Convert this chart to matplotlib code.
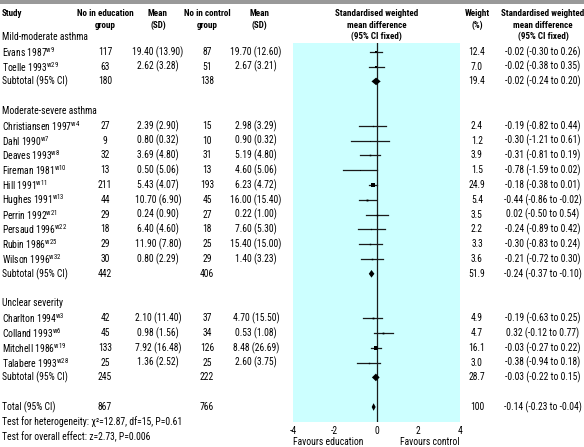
import numpy as np
import matplotlib.pyplot as plt
from matplotlib import font_manager
from matplotlib.patches import Polygon, Rectangle

# pick a narrow sans if one is installed, else plain Liberation Sans a bit smaller
names = {f.name for f in font_manager.fontManager.ttflist}
fam, fs = 'Liberation Sans', 5.9
for cand, size in [('Liberation Sans Narrow', 7), ('Roboto Condensed', 6.6)]:
    if cand in names:
        fam, fs = cand, size
        break
plt.rcParams['font.family'] = [fam, 'DejaVu Sans']
plt.rcParams['mathtext.fontset'] = 'custom'
plt.rcParams['mathtext.rm'] = fam
fs_body = fs * 1.05
fs_head = fs * 0.98

# data
group_names = ["Mild-moderate asthma", "Moderate-severe asthma", "Unclear severity"]
group_of = [0, 0, 1, 1, 1, 1, 1, 1, 1, 1, 1, 1, 2, 2, 2, 2]
studies = ["Evans 1987", "Toelle 1993", "Christiansen 1997", "Dahl 1990", "Deaves 1993",
           "Fireman 1981", "Hill 1991", "Hughes 1991", "Perrin 1992", "Persaud 1996",
           "Rubin 1986", "Wilson 1996", "Charlton 1994", "Colland 1993", "Mitchell 1986",
           "Talabere 1993"]
refs = ["w9", "w29", "w4", "w7", "w8", "w10", "w11", "w13", "w21", "w22", "w25", "w32",
        "w3", "w6", "w19", "w28"]
n_edu = [117, 63, 27, 9, 32, 13, 211, 44, 29, 18, 29, 30, 42, 45, 133, 25]
mean_edu = [19.40, 2.62, 2.39, 0.80, 3.69, 0.50, 5.43, 10.70, 0.24, 6.40, 11.90, 0.80,
            2.10, 0.98, 7.92, 1.36]
sd_edu = [13.90, 3.28, 2.90, 0.32, 4.80, 5.06, 4.07, 6.90, 0.90, 4.60, 7.80, 2.29,
          11.40, 1.56, 16.48, 2.52]
n_ctl = [87, 51, 15, 10, 31, 13, 193, 45, 27, 18, 25, 29, 37, 34, 126, 25]
mean_ctl = [19.70, 2.67, 2.98, 0.90, 5.19, 4.60, 6.23, 16.00, 0.22, 7.60, 15.40, 1.40,
            4.70, 0.53, 8.48, 2.60]
sd_ctl = [12.60, 3.21, 3.29, 0.32, 4.80, 5.06, 4.72, 15.40, 1.00, 5.30, 15.00, 3.23,
          15.50, 1.08, 26.69, 3.75]
weight = [12.4, 7.0, 2.4, 1.2, 3.9, 1.5, 24.9, 5.4, 3.5, 2.2, 3.3, 3.6, 4.9, 4.7, 16.1, 3.0]
smd = [-0.02, -0.02, -0.19, -0.30, -0.31, -0.78, -0.18, -0.44, 0.02, -0.24, -0.30, -0.21,
       -0.19, 0.32, -0.03, -0.38]
ci_lo = [-0.30, -0.38, -0.82, -1.21, -0.81, -1.59, -0.38, -0.86, -0.50, -0.89, -0.83,
         -0.72, -0.63, -0.12, -0.27, -0.94]
ci_hi = [0.26, 0.35, 0.44, 0.61, 0.19, 0.02, 0.01, -0.02, 0.54, 0.42, 0.24, 0.30,
         0.25, 0.77, 0.22, 0.18]

sub_n_edu = [180, 442, 245]
sub_n_ctl = [138, 406, 222]
sub_weight = [19.4, 51.9, 28.7]
sub_smd = [-0.02, -0.24, -0.03]
sub_lo = [-0.24, -0.37, -0.22]
sub_hi = [0.20, -0.10, 0.15]

total_n_edu, total_n_ctl = 867, 766
total_weight = 100
total_smd, total_lo, total_hi = -0.14, -0.23, -0.04

het_text = "Test for heterogeneity: χ²=12.87, df=15, P=0.61"
overall_text = "Test for overall effect: z=2.73, P=0.006"

# layout (pixel coordinates, y from top)
W, H = 584, 447
x_study, x_ne, x_me, x_nc, x_mc = 2, 105, 158, 207, 256
x_w, x_ci = 477, 543
px_left, px_right, px_top, px_bot = 293, 460, 43, 422
row_y = lambda r: 37 + 14.8 * r
ink = '#1a1a1a'

fig = plt.figure(figsize=(W / 100, H / 100), dpi=100)
bg = fig.add_axes([0, 0, 1, 1])
bg.set_xlim(0, W)
bg.set_ylim(H, 0)
bg.axis('off')
bg.add_patch(Rectangle((0, 0), W, 3.5, color='#999999', lw=0))

ax = fig.add_axes([px_left / W, (H - px_bot) / H, (px_right - px_left) / W,
                   (px_bot - px_top) / H])
ax.set_xlim(-4, 4)
ax.set_ylim(px_bot, px_top)
ax.set_facecolor('#ccffff')
for s in ax.spines.values():
    s.set_visible(False)
ax.set_xticks([-4, -2, 0, 2, 4])
ax.set_xticklabels(["-4", "-2", "0", "2", "4"], fontsize=fs_body)
ax.tick_params(axis='x', length=0, pad=3)
ax.set_yticks([])
ax.axvline(0, color=ink, lw=0.9, zorder=1)


def txt(x, y, s, ha='left', bold=False):
    bg.text(x, y, s, ha=ha, va='center', fontsize=fs_head if bold else fs_body,
            fontweight='bold' if bold else 'normal', color='black')


# column headers
hdr = [(x_study, ["Study"]), (x_ne, ["No in education", "group"]),
       (x_me, ["Mean", "(SD)"]), (x_nc, ["No in control", "group"]),
       (x_mc + 3, ["Mean", "(SD)"]),
       ((px_left + px_right) / 2, ["Standardised weighted", "mean difference", "(95% CI fixed)"]),
       (x_w, ["Weight", "(%)"]),
       (x_ci, ["Standardised weighted", "mean difference", "(95% CI fixed)"])]
for x, lines in hdr:
    for k, line in enumerate(lines):
        txt(x, 14 + 11 * k, line, ha='left' if x == x_study else 'center', bold=True)


def diamond(y, m, lo, hi, h=3.8):
    ax.add_patch(Polygon([(lo, y), (m, y - h), (hi, y), (m, y + h)], closed=True,
                         color='black', lw=0, zorder=3))


row = 0
for g, gname in enumerate(group_names):
    txt(x_study, row_y(row), gname)
    row += 1
    for i in [j for j in range(len(studies)) if group_of[j] == g]:
        y = row_y(row)
        txt(x_study, y, studies[i] + r"$^{\mathrm{" + refs[i] + "}}$")
        txt(x_ne, y, str(n_edu[i]), ha='center')
        txt(x_me, y, f"{mean_edu[i]:.2f} ({sd_edu[i]:.2f})", ha='center')
        txt(x_nc, y, str(n_ctl[i]), ha='center')
        txt(x_mc, y, f"{mean_ctl[i]:.2f} ({sd_ctl[i]:.2f})", ha='center')
        txt(x_w, y, f"{weight[i]:.1f}", ha='center')
        txt(x_ci, y, f"{smd[i]:.2f} ({ci_lo[i]:.2f} to {ci_hi[i]:.2f})", ha='center')
        ax.plot([ci_lo[i], ci_hi[i]], [y, y], color=ink, lw=0.9, zorder=2)
        side = max(0.8 * np.sqrt(weight[i]), 1.0)
        ax.plot(smd[i], y, marker='s', ms=side * 0.72, color='black', mew=0, zorder=3)
        row += 1
    y = row_y(row)
    txt(x_study, y, "Subtotal (95% CI)")
    txt(x_ne, y, str(sub_n_edu[g]), ha='center')
    txt(x_nc, y, str(sub_n_ctl[g]), ha='center')
    txt(x_w, y, f"{sub_weight[g]:.1f}", ha='center')
    txt(x_ci, y, f"{sub_smd[g]:.2f} ({sub_lo[g]:.2f} to {sub_hi[g]:.2f})", ha='center')
    diamond(y, sub_smd[g], sub_lo[g], sub_hi[g])
    row += 2

y = row_y(row)
txt(x_study, y, "Total (95% CI)")
txt(x_ne, y, str(total_n_edu), ha='center')
txt(x_nc, y, str(total_n_ctl), ha='center')
txt(x_w, y, str(total_weight), ha='center')
txt(x_ci, y, f"{total_smd:.2f} ({total_lo:.2f} to {total_hi:.2f})", ha='center')
diamond(y, total_smd, total_lo, total_hi)
txt(x_study, row_y(row + 1), het_text)
txt(x_study, row_y(row + 2), overall_text)

txt(px_left, 442, "Favours education")
txt(px_right, 442, "Favours control", ha='right')

fig.savefig("out.png", dpi=100)
